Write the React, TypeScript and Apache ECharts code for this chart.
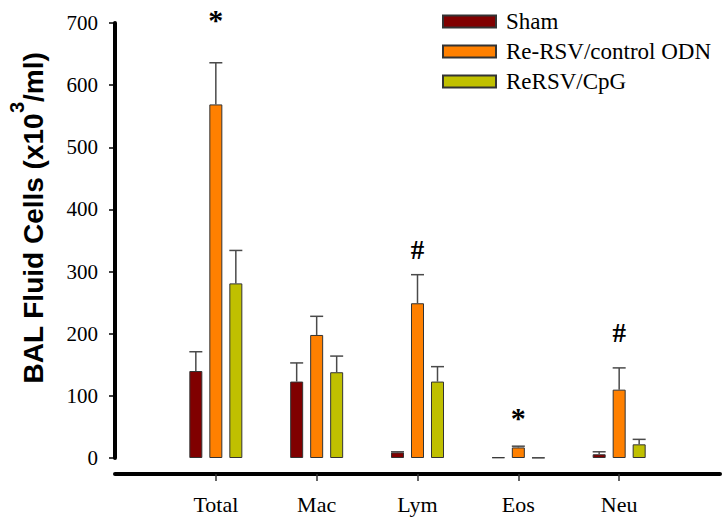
import React, { useEffect, useRef } from "react";
import * as echarts from "echarts";

// Cell counts in BAL fluid (x10^3/ml), mean and upper SEM
const categories = ["Total", "Mac", "Lym", "Eos", "Neu"];
const groupNames = ["Sham", "Re-RSV/control ODN", "ReRSV/CpG"];

const shamMean = [140, 123, 9, 1, 6];
const shamErr = [31, 30, 1, 0, 4];
const odnMean = [569, 198, 249, 17, 110];
const odnErr = [67, 30, 46, 2, 35];
const cpgMean = [281, 138, 123, 0.5, 22];
const cpgErr = [53, 26, 24, 0, 8];

// significance marks drawn over the Re-RSV/control ODN bars
const sigMarks = ["*", "", "#", "*", "#"];
const sigHeights = [705, 0, 335, 65, 201];

const yTicks = { min: 0, max: 700, interval: 100 };

const colors = ["#800000", "#FF8000", "#C0C000"];
const serif = "'Liberation Serif', 'Times New Roman', serif";
const sans = "'Liberation Sans', Arial, sans-serif";
const BAR_W = 13;
const BAR_PITCH = 20;

// one empty slot at each end so the category ticks sit inside the axis span
const axisCats = ["", ...categories, ""];
const pad = (arr: number[]) => ["-", ...arr, "-"];

function errorSeries(mean: number[], err: number[], slot: number) {
  return {
    type: "custom",
    clip: false,
    silent: true,
    z: 5,
    data: mean.map((m, i) => [i + 1, m, err[i]]),
    renderItem: (params: any, api: any) => {
      const e = api.value(2);
      if (!e) return null;
      const base = api.coord([api.value(0), api.value(1)]);
      const top = api.coord([api.value(0), api.value(1) + e]);
      const x = base[0] + slot * BAR_PITCH;
      const lineStyle = { stroke: "#4a4a4a", lineWidth: 1.5 };
      return {
        type: "group",
        children: [
          { type: "line", shape: { x1: x, y1: base[1], x2: x, y2: top[1] }, style: lineStyle },
          {
            type: "line",
            shape: { x1: x - BAR_W / 2, y1: top[1], x2: x + BAR_W / 2, y2: top[1] },
            style: lineStyle,
          },
        ],
      };
    },
  };
}

export default function App() {
  const ref = useRef<HTMLDivElement>(null);

  useEffect(() => {
    if (!ref.current) return;
    const chart = echarts.init(ref.current, undefined, { renderer: "svg" });
    const means = [shamMean, odnMean, cpgMean];

    const barSeries = groupNames.map((name, k) => ({
      name,
      type: "bar",
      data: pad(means[k]),
      barWidth: BAR_W,
      barGap: ((BAR_PITCH - BAR_W) / BAR_W) * 100 + "%",
      itemStyle: { color: colors[k], borderColor: "#333", borderWidth: 1 },
    }));

    chart.setOption({
      animation: false,
      backgroundColor: "#ffffff",
      grid: { left: 115, right: 4, top: 23, bottom: 63 },
      legend: {
        data: groupNames,
        orient: "vertical",
        left: 437,
        top: 5,
        itemWidth: 53,
        itemHeight: 12,
        itemGap: 7,
        icon: "rect",
        selectedMode: false,
        textStyle: {
          fontFamily: serif,
          fontSize: 23,
          color: "#000",
          padding: [0, 0, 0, 5],
        },
      },
      xAxis: {
        type: "category",
        data: axisCats,
        boundaryGap: false,
        offset: 16,
        axisLine: { onZero: false, lineStyle: { color: "#000", width: 4 } },
        axisTick: {
          length: 7,
          interval: (i: number) => i > 0 && i < axisCats.length - 1,
          lineStyle: { color: "#333", width: 1.5 },
        },
        axisLabel: {
          interval: 0,
          margin: 19,
          fontFamily: serif,
          fontSize: 22,
          color: "#000",
        },
        splitLine: { show: false },
      },
      yAxis: {
        type: "value",
        ...yTicks,
        axisLine: { show: true, lineStyle: { color: "#000", width: 4 } },
        axisTick: { show: true, length: 6, lineStyle: { color: "#000", width: 1.5 } },
        axisLabel: { margin: 17, fontFamily: serif, fontSize: 21, color: "#000" },
        splitLine: { show: false },
      },
      graphic: [
        {
          type: "text",
          x: 27,
          y: 218,
          rotation: Math.PI / 2,
          style: {
            text: "{a|BAL Fluid Cells (x10}{s|3}{a|/ml)}",
            align: "center",
            verticalAlign: "middle",
            rich: {
              a: {
                fontFamily: sans,
                fontWeight: "bold",
                fontSize: 28,
                fill: "#000",
                lineHeight: 40,
                verticalAlign: "bottom",
              },
              s: {
                fontFamily: sans,
                fontWeight: "bold",
                fontSize: 20,
                fill: "#000",
                lineHeight: 40,
                verticalAlign: "top",
              },
            },
          },
        },
      ],
      series: [
        ...barSeries,
        errorSeries(shamMean, shamErr, -1),
        errorSeries(odnMean, odnErr, 0),
        errorSeries(cpgMean, cpgErr, 1),
        {
          type: "custom",
          clip: false,
          silent: true,
          z: 6,
          data: sigHeights.map((h, i) => [i + 1, h]),
          renderItem: (params: any, api: any) => {
            const mark = sigMarks[params.dataIndex];
            if (!mark) return null;
            const p = api.coord([api.value(0), api.value(1)]);
            return {
              type: "text",
              x: p[0],
              y: p[1],
              style: {
                text: mark,
                align: "center",
                verticalAlign: "middle",
                fontFamily: serif,
                fontWeight: "bold",
                fontSize: mark === "*" ? 30 : 27,
                fill: "#000",
              },
            };
          },
        },
      ],
    });

    return () => chart.dispose();
  }, []);

  return (
    <div
      ref={ref}
      style={{ position: "fixed", left: 0, top: 0, width: 724, height: 521 }}
    />
  );
}
